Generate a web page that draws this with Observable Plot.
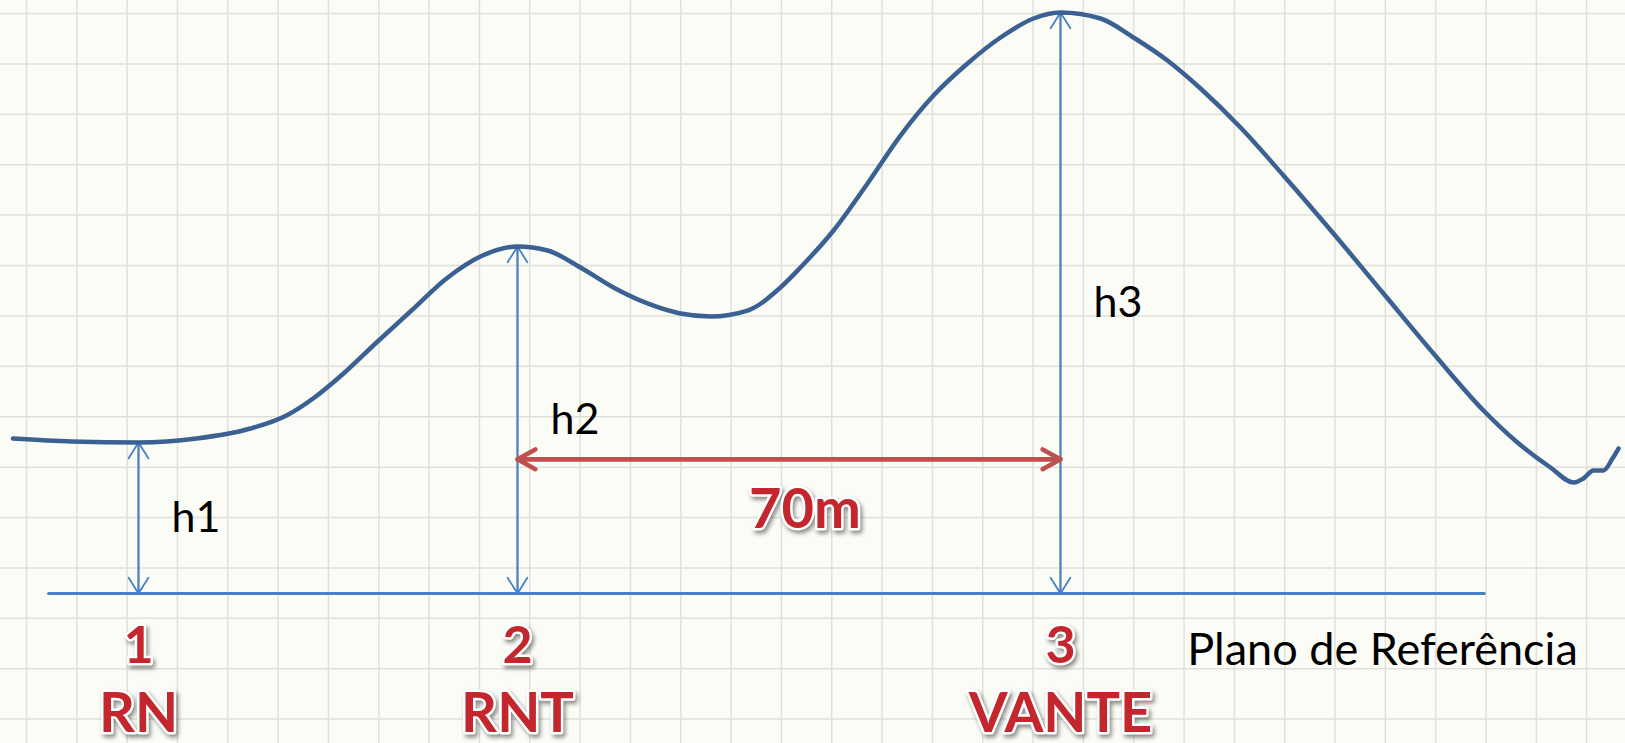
<!DOCTYPE html>
<html><head><meta charset="utf-8">
<script src="https://cdn.jsdelivr.net/npm/d3@7"></script>
<script src="https://cdn.jsdelivr.net/npm/@observablehq/plot@0.6"></script>
<style>html,body{margin:0;padding:0;background:#fcfcf7;overflow:hidden;}</style>
</head><body><div id="chart"></div>
<script>
// Terrain profile (distance in m from station 1, elevation in m above the reference plane)
const curveDist = [-16.18, -8.64, 0, 7.48, 14.44, 19.08, 22.69, 26.43, 30.55, 35.19, 39.71, 44.35, 48.86, 52.73, 56.98, 61.23, 65.62, 69.87, 73.74, 78.51, 82.76, 85.34, 89.60, 93.98, 98.23, 102.49, 106.87, 111.13, 115.38, 118.86, 124.02, 128.27, 132.65, 136.91, 142.07, 147.61, 154.05, 160.50, 166.95, 173.39, 177.77, 182.03, 185.00, 186.28, 187.57, 188.86, 190.02, 190.80];
const curveElev = [19.98, 19.60, 19.47, 19.98, 21.27, 22.95, 25.27, 28.36, 32.23, 36.48, 40.61, 43.57, 44.73, 44.22, 42.03, 39.45, 37.39, 36.10, 35.72, 36.48, 39.45, 42.03, 46.80, 52.86, 59.04, 64.20, 68.33, 71.68, 74.13, 74.90, 74.13, 71.68, 68.71, 65.10, 60.07, 53.89, 46.41, 38.67, 30.94, 23.59, 19.47, 16.24, 14.31, 14.83, 15.86, 15.86, 17.40, 18.69];

// Stations
const stationNum = ["1", "2", "3"];
const stationName = ["RN", "RNT", "VANTE"];
const stationDist = [0, 48.86, 118.86];
const stationElev = [19.47, 44.73, 74.90];
const heightLabel = ["h1", "h2", "h3"];

// Reference plane and the 70 m span between stations 2 and 3
const refPlaneDist = [-11.6, 173.5];
const spanFrom = 48.86, spanTo = 118.86, spanElev = 17.3, spanLabel = "70m";
const refPlaneLabel = "Plano de Referência";
const refPlaneLabelDist = 135.2;

// Background paper grid (m)
const gridX = [-14.44, -7.95, -1.46, 5.02, 11.51, 18.00, 24.49, 30.98, 37.47, 43.95, 50.44, 56.93, 63.42, 69.91, 76.40, 82.88, 89.37, 95.86, 102.35, 108.84, 115.32, 121.81, 128.30, 134.79, 141.28, 147.77, 154.25, 160.74, 167.23, 173.72, 180.21, 186.69];
const gridY = [74.77, 68.27, 61.78, 55.28, 48.78, 42.28, 35.79, 29.29, 22.79, 16.29, 9.80, 3.30, -3.20, -9.69, -16.19];

const terrain = curveDist.map((d, i) => ({dist: d, elev: curveElev[i]}));
const stations = stationNum.map((n, i) => ({num: n, name: stationName[i], dist: stationDist[i], elev: stationElev[i], h: heightLabel[i]}));
const refPlane = refPlaneDist.map(d => ({dist: d, elev: 0}));
const span = [{from: spanFrom, to: spanTo, elev: spanElev, label: spanLabel, mid: (spanFrom + spanTo) / 2}];

const blue = "#4a80c4";
const red = "#c3262c";
const curveColor = "#3a6191";

const plot = Plot.plot({
  width: 1625, height: 743, margin: 0,
  x: {domain: [-17.79, 191.70], axis: null},
  y: {domain: [-19.34, 76.45], axis: null},
  style: {background: "#fcfcf7", fontFamily: "Lato, sans-serif", overflow: "visible"},
  marks: [
    Plot.ruleX(gridX, {stroke: "#e0e0db", strokeWidth: 1.5}),
    Plot.ruleY(gridY, {stroke: "#e0e0db", strokeWidth: 1.5}),
    Plot.line(refPlane, {x: "dist", y: "elev", stroke: blue, strokeWidth: 3}),
    Plot.arrow(stations, {x: "dist", y1: d => 0, y2: "elev", stroke: blue, strokeWidth: 1.8, headLength: 15.5, headAngle: 64}),
    Plot.arrow(stations, {x: "dist", y1: "elev", y2: d => 0, stroke: blue, strokeWidth: 1.8, headLength: 15.5, headAngle: 64}),
    Plot.line(terrain, {x: "dist", y: "elev", stroke: curveColor, strokeWidth: 4.5, curve: "monotone-x"}),
    Plot.arrow(span, {x1: "from", x2: "to", y: "elev", stroke: "#c0504d", strokeWidth: 4.5, headLength: 6.8, headAngle: 58, strokeLinecap: "round"}),
    Plot.arrow(span, {x1: "to", x2: "from", y: "elev", stroke: "#c0504d", strokeWidth: 4.5, headLength: 6.8, headAngle: 58, strokeLinecap: "round"}),
    Plot.text(stations, {x: "dist", y: d => d.elev / 2, text: "h", textAnchor: "start", dx: 33, fontSize: 43, fill: "#000"}),
    Plot.text([refPlaneLabel], {x: d => refPlaneLabelDist, y: d => 0, text: d => d, textAnchor: "start", dy: 57, fontSize: 45, fill: "#000"}),
    Plot.text(stations, {x: "dist", y: d => 0, text: "num", dy: 53, fontSize: 52, fontWeight: "bold", fill: red, stroke: "white", strokeWidth: 5, paintOrder: "stroke"}),
    Plot.text(stations, {x: "dist", y: d => 0, text: "name", dy: 121, fontSize: 56, fontWeight: "bold", fill: red, stroke: "white", strokeWidth: 5, paintOrder: "stroke"}),
    Plot.text(span, {x: "mid", y: "elev", text: "label", dx: 16, dy: 51, fontSize: 56, fontWeight: "bold", fill: red, stroke: "white", strokeWidth: 5, paintOrder: "stroke"})
  ]
});
d3.select(plot).selectAll("g[aria-label='text']")
  .filter(function() { return this.getAttribute("fill") === red; })
  .style("filter", "drop-shadow(2px 3px 2px rgba(0,0,0,0.45))");
document.getElementById("chart").append(plot);
</script>
</body></html>
